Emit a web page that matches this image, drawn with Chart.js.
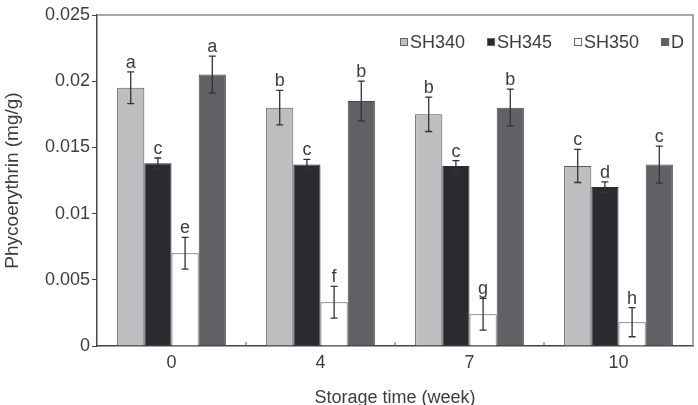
<!DOCTYPE html>
<html>
<head>
<meta charset="utf-8">
<script src="https://cdn.jsdelivr.net/npm/chart.js@4/dist/chart.umd.min.js"></script>
<style>
  html, body { margin: 0; padding: 0; background: #fff; }
  #wrap { width: 698px; height: 405px; position: relative; }
</style>
</head>
<body>
<div id="wrap"><canvas id="c" width="698" height="405"></canvas></div>
<script>
// ---- data ----
const categories = ['0', '4', '7', '10'];
const seriesNames = ['SH340', 'SH345', 'SH350', 'D'];
const sh340 = [0.0195, 0.0180, 0.0175, 0.0136];
const sh340Err = [0.0012, 0.0013, 0.0013, 0.00125];
const sh340Letters = ['a', 'b', 'b', 'c'];
const sh345 = [0.0138, 0.0137, 0.0136, 0.0120];
const sh345Err = [0.0004, 0.0004, 0.0004, 0.0004];
const sh345Letters = ['c', 'c', 'c', 'd'];
const sh350 = [0.0070, 0.0033, 0.0024, 0.0018];
const sh350Err = [0.0012, 0.0012, 0.0012, 0.0011];
const sh350Letters = ['e', 'f', 'g', 'h'];
const dVals = [0.0205, 0.0185, 0.0180, 0.0137];
const dErr = [0.0014, 0.0015, 0.0014, 0.0014];
const dLetters = ['a', 'b', 'b', 'c'];
const yTickLabels = ['0', '0.005', '0.01', '0.015', '0.02', '0.025'];
const xTitle = 'Storage time (week)';
const yTitle = 'Phycoerythrin (mg/g)';

const FONT = "'Liberation Sans', Arial, sans-serif";
const TXT = '#3d3d3d';

const fills = ['#bdbec0', '#2a2b30', '#ffffff', '#606164'];
const borders = ['#5a5a5a', '#2a2b30', '#555555', '#4a4a4c'];
const errs = [sh340Err, sh345Err, sh350Err, dErr];
const letters = [sh340Letters, sh345Letters, sh350Letters, dLetters];
const vals = [sh340, sh345, sh350, dVals];

const datasets = seriesNames.map((n, i) => ({
  label: n,
  data: vals[i],
  backgroundColor: fills[i],
  borderColor: borders[i],
  borderWidth: 1,
  borderSkipped: 'bottom',
  categoryPercentage: 0.73,
  barPercentage: 1.0
}));

const decor = {
  id: 'decor',
  afterDatasetsDraw(chart) {
    const ctx = chart.ctx;
    const y = chart.scales.y;
    const x = chart.scales.x;
    const ca = chart.chartArea;
    ctx.save();
    // error bars + letters
    chart.data.datasets.forEach((ds, di) => {
      const meta = chart.getDatasetMeta(di);
      meta.data.forEach((bar, j) => {
        const v = ds.data[j];
        const e = errs[di][j];
        const cx = bar.x;
        const yt = y.getPixelForValue(v + e);
        const yb = y.getPixelForValue(v - e);
        ctx.strokeStyle = '#333';
        ctx.lineWidth = 1.3;
        ctx.beginPath();
        ctx.moveTo(cx, yt); ctx.lineTo(cx, yb);
        ctx.moveTo(cx - 3.5, yt); ctx.lineTo(cx + 3.5, yt);
        ctx.moveTo(cx - 3.5, yb); ctx.lineTo(cx + 3.5, yb);
        ctx.stroke();
        ctx.fillStyle = TXT;
        ctx.font = '18px ' + FONT;
        ctx.textAlign = 'center';
        ctx.textBaseline = 'alphabetic';
        ctx.fillText(letters[di][j], cx, yt - 4);
      });
    });
    // frame top/right
    ctx.strokeStyle = '#8a8a8a';
    ctx.lineWidth = 1.5;
    ctx.beginPath();
    ctx.moveTo(ca.left, ca.top);
    ctx.lineTo(ca.right, ca.top);
    ctx.lineTo(ca.right, ca.bottom);
    ctx.stroke();
    // inner x ticks between categories
    ctx.strokeStyle = '#555';
    ctx.lineWidth = 1;
    for (let i = 0; i < categories.length - 1; i++) {
      const px = (x.getPixelForTick(i) + x.getPixelForTick(i + 1)) / 2;
      ctx.beginPath();
      ctx.moveTo(px, ca.bottom);
      ctx.lineTo(px, ca.bottom - 4);
      ctx.stroke();
    }
    // legend
    let lx = ca.left + 303;
    const ly = ca.top + 27;
    ctx.font = '18px ' + FONT;
    ctx.textAlign = 'left';
    ctx.textBaseline = 'middle';
    chart.data.datasets.forEach((ds, di) => {
      ctx.fillStyle = fills[di];
      ctx.fillRect(lx, ly - 4, 8, 8);
      ctx.strokeStyle = '#666';
      ctx.lineWidth = 1;
      ctx.strokeRect(lx + 0.5, ly - 3.5, 7, 7);
      ctx.fillStyle = TXT;
      ctx.fillText(ds.label, lx + 10, ly + 1);
      lx += 10 + ctx.measureText(ds.label).width + 22;
    });
    ctx.restore();
  }
};

new Chart(document.getElementById('c'), {
  type: 'bar',
  data: { labels: categories, datasets },
  options: {
    responsive: false,
    animation: false,
    devicePixelRatio: 1,
    layout: { padding: { top: 15, right: 5, left: 0, bottom: 0 } },
    plugins: { legend: { display: false }, tooltip: { enabled: false } },
    scales: {
      x: {
        grid: { display: false, drawTicks: false },
        border: { display: true, color: '#444', width: 1.5 },
        ticks: { color: TXT, font: { family: FONT, size: 18 }, padding: 6 },
        title: { display: true, text: xTitle, color: TXT,
                 font: { family: FONT, size: 18, lineHeight: 0.8 }, padding: 0 },
        afterFit(s) { s.height = 59; }
      },
      y: {
        min: 0, max: 0.025,
        grid: { drawOnChartArea: false, drawTicks: true, tickLength: 5, color: '#444' },
        border: { display: true, color: '#444', width: 1.5 },
        ticks: { stepSize: 0.005, color: TXT, font: { family: FONT, size: 18 }, padding: 2,
                 callback: (v, i) => yTickLabels[i] },
        title: { display: true, text: yTitle, color: TXT,
                 font: { family: FONT, size: 19 }, padding: { top: 1, bottom: 0 } },
        afterFit(s) { s.width = 97; }
      }
    }
  },
  plugins: [decor]
});
</script>
</body>
</html>
